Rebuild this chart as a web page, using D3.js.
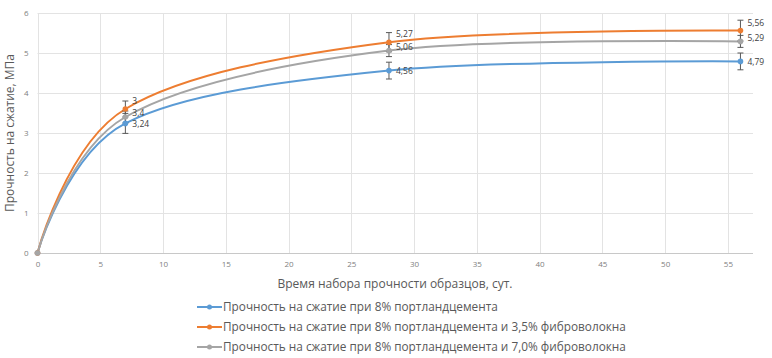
<!DOCTYPE html>
<html><head><meta charset="utf-8">
<script src="https://cdn.jsdelivr.net/npm/d3@7"></script>
<style>
html,body{margin:0;padding:0;background:#fff;}
svg{display:block;font-family:"Open Sans",sans-serif;}
</style></head><body>
<svg id="c" width="772" height="358"></svg>
<script>
const days = [0, 7, 28, 56];
const seriesNames = [
  "Прочность на сжатие при 8% портландцемента",
  "Прочность на сжатие при 8% портландцемента и 3,5% фиброволокна",
  "Прочность на сжатие при 8% портландцемента и 7,0% фиброволокна"
];
const blueValues = [0, 3.24, 4.56, 4.79];
const orangeValues = [0, 3.6, 5.27, 5.56];
const grayValues = [0, 3.4, 5.06, 5.29];
const blueErrors = [0, 0.25, 0.21, 0.21];
const orangeErrors = [0, 0.2, 0.24, 0.26];
const grayErrors = [0, 0.15, 0.15, 0.15];
const blueLabels = ["", "3,24", "4,56", "4,79"];
const orangeLabels = ["", "3", "5,27", "5,56"];
const grayLabels = ["", "3,4", "5,06", "5,29"];
const xTicks = [0,5,10,15,20,25,30,35,40,45,50,55];
const yTicks = [0,1,2,3,4,5,6];
const colors = ["#5b9bd5", "#ed7d31", "#a5a5a5"];
const labelShift = [1, -7, -3];

const series = [
  {name: seriesNames[0], values: blueValues, err: blueErrors, labels: blueLabels, color: colors[0], shift: labelShift[0]},
  {name: seriesNames[1], values: orangeValues, err: orangeErrors, labels: orangeLabels, color: colors[1], shift: labelShift[1]},
  {name: seriesNames[2], values: grayValues, err: grayErrors, labels: grayLabels, color: colors[2], shift: labelShift[2]}
];

const svg = d3.select("#c");
const x = d3.scaleLinear().domain([0, 57]).range([37.5, 753]);
const y = d3.scaleLinear().domain([0, 6]).range([253, 13]);

// gridlines
const g = svg.append("g");
g.selectAll(".vg").data(xTicks).join("line")
  .attr("x1", d => Math.round(x(d)) + 0.5).attr("x2", d => Math.round(x(d)) + 0.5)
  .attr("y1", y(6)).attr("y2", y(0))
  .attr("stroke", "#e3e3e3").attr("stroke-width", 1);
g.selectAll(".hg").data(yTicks).join("line")
  .attr("x1", x(0)).attr("x2", x(57))
  .attr("y1", d => Math.round(y(d)) + 0.5).attr("y2", d => Math.round(y(d)) + 0.5)
  .attr("stroke", d => d === 0 ? "#c8c8c8" : "#e3e3e3").attr("stroke-width", 1);

// axes (labels only)
const xa = svg.append("g").attr("transform", `translate(0,${y(0)})`)
  .call(d3.axisBottom(x).tickValues(xTicks).tickFormat(d3.format("d")).tickSize(0).tickPadding(8));
xa.select(".domain").remove();
xa.selectAll("text").attr("fill", "#808080").attr("font-size", 8).attr("font-family", "Open Sans, sans-serif");
const ya = svg.append("g").attr("transform", `translate(${x(0)},0)`)
  .call(d3.axisLeft(y).tickValues(yTicks).tickFormat(d3.format("d")).tickSize(0).tickPadding(9));
ya.select(".domain").remove();
ya.selectAll("text").attr("fill", "#808080").attr("font-size", 8).attr("font-family", "Open Sans, sans-serif");

// axis titles
svg.append("text").attr("x", 395).attr("y", 288).attr("text-anchor", "middle")
  .attr("font-size", 12).attr("fill", "#595959").text("Время набора прочности образцов, сут.");
svg.append("text").attr("transform", "translate(14,133) rotate(-90)").attr("text-anchor", "middle")
  .attr("font-size", 12).attr("fill", "#595959").text("Прочность на сжатие, МПа");

// lines
const line = d3.line().x(d => x(d[0])).y(d => y(d[1])).curve(d3.curveCardinal.tension(0));
series.forEach(s => {
  svg.append("path").datum(days.map((d, i) => [d, s.values[i]]))
    .attr("d", line).attr("fill", "none").attr("stroke", s.color).attr("stroke-width", 2);
});

// error bars
series.forEach(s => {
  days.forEach((d, i) => {
    if (!s.err[i]) return;
    const cx = x(d), y1 = y(s.values[i] + s.err[i]), y2 = y(s.values[i] - s.err[i]);
    svg.append("line").attr("x1", cx).attr("x2", cx).attr("y1", y1).attr("y2", y2)
      .attr("stroke", "#595959").attr("stroke-width", 1);
    [y1, y2].forEach(yy => svg.append("line").attr("x1", cx - 3).attr("x2", cx + 3)
      .attr("y1", yy).attr("y2", yy).attr("stroke", "#595959").attr("stroke-width", 1));
  });
});

// markers
series.forEach(s => {
  svg.append("g").selectAll("circle").data(days.map((d, i) => [d, s.values[i]])).join("circle")
    .attr("cx", d => x(d[0])).attr("cy", d => y(d[1])).attr("r", 2.8).attr("fill", s.color);
});

// data labels
series.forEach(s => {
  svg.append("g").selectAll("text").data(days.map((d, i) => [d, s.values[i], s.labels[i]])).join("text")
    .attr("x", d => x(d[0]) + 7).attr("y", d => y(d[1]) + s.shift)
    .attr("dominant-baseline", "middle")
    .attr("font-size", 8.5).attr("fill", "#404040").text(d => d[2]);
});

// legend
const lg = svg.append("g");
series.forEach((s, i) => {
  const yy = 307 + i * 20;
  lg.append("line").attr("x1", 197).attr("x2", 222).attr("y1", yy).attr("y2", yy)
    .attr("stroke", s.color).attr("stroke-width", 2);
  lg.append("circle").attr("cx", 209.5).attr("cy", yy).attr("r", 2.5).attr("fill", s.color);
  lg.append("text").attr("x", 223).attr("y", yy + 4).attr("font-size", 11.8).attr("fill", "#595959").text(s.name);
});
</script>
</body></html>
